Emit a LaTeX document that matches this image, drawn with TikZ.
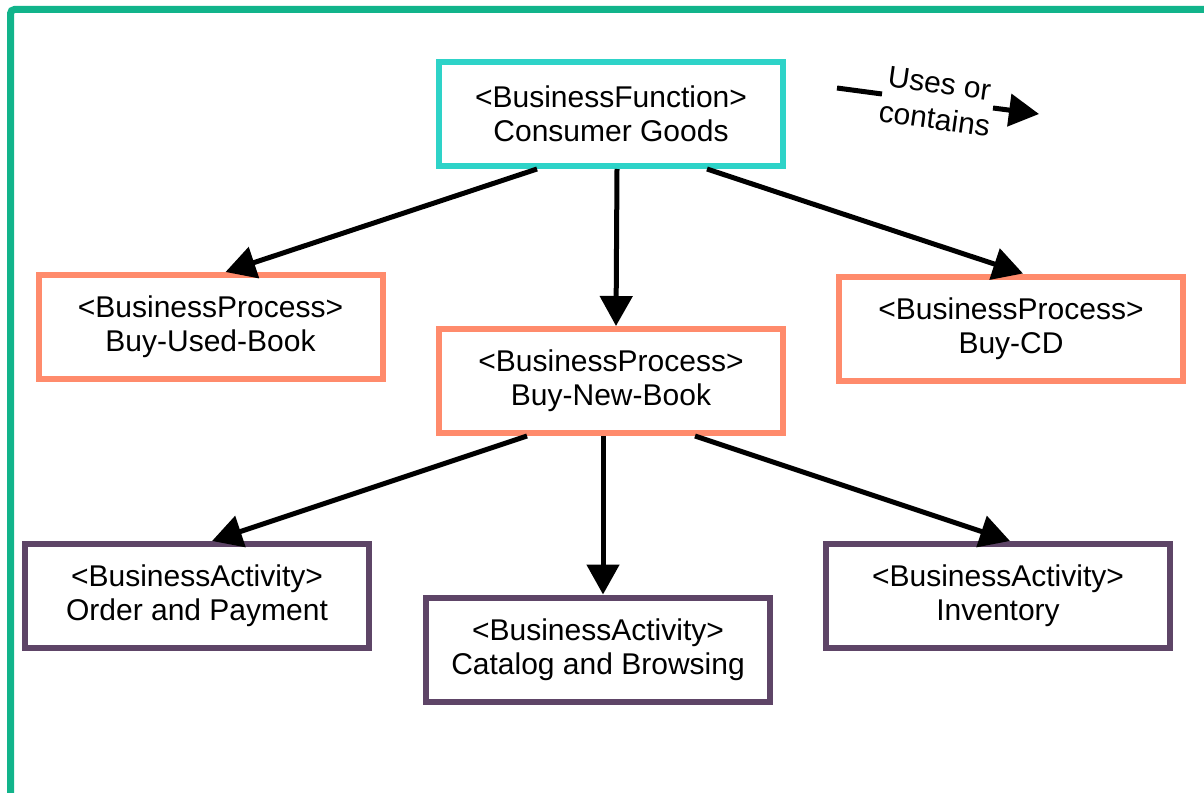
\documentclass[tikz,border=0pt]{standalone}
\usepackage{fontspec}
\setmainfont{Liberation Sans}
\usetikzlibrary{arrows.meta,calc}
\definecolor{framegreen}{HTML}{12B48B}
\definecolor{funccyan}{HTML}{2ED3C8}
\definecolor{procsalmon}{HTML}{FF8B6C}
\definecolor{actpurple}{HTML}{5E4567}
\begin{document}
\begin{tikzpicture}[x=0.5pt,y=-0.5pt,
    every node/.style={font=\fontsize{15}{17}\selectfont,align=center},
    box/.style={draw,line width=3pt,minimum width=172pt,minimum height=52pt,inner sep=0pt},
    func/.style={box,draw=funccyan},
    proc/.style={box,draw=procsalmon},
    act/.style={box,draw=actpurple},
    link/.style={line width=2.5pt,-{Triangle[length=15pt,width=16pt]}}]
      \useasboundingbox (0,0) rectangle (1204,792);
      \draw[framegreen,line width=3.5pt,rounded corners=2pt] (10.5,9.5) rectangle (1300,900);
      \node[func] (cg) at (611,114) {<BusinessFunction>\\Consumer Goods};
      \node[proc] (bub) at (210.5,327) {<BusinessProcess>\\Buy-Used-Book};
      \node[proc] (bnb) at (611,381) {<BusinessProcess>\\Buy-New-Book};
      \node[proc] (bcd) at (1011,328.5) {<BusinessProcess>\\Buy-CD};
      \node[act] (op) at (197,596) {<BusinessActivity>\\Order and Payment};
      \node[act] (cb) at (598,649.5) {<BusinessActivity>\\Catalog and Browsing};
      \node[act] (inv) at (998,596) {<BusinessActivity>\\Inventory};
      \draw[link] ($(cg.south)+(-74,0)$) -- ($(bub.north)+(15,0)$);
      \draw[link] ($(cg.south)+(6,0)$) -- ($(bnb.north)+(5,0)$);
      \draw[link] ($(cg.south)+(96,0)$) -- ($(bcd.north)+(12,0)$);
      \draw[link] ($(bnb.south)+(-84,0)$) -- ($(op.north)+(15,0)$);
      \draw[link] ($(bnb.south)+(-8,0)$) -- ($(cb.north)+(5,0)$);
      \draw[link] ($(bnb.south)+(84,0)$) -- ($(inv.north)+(12,0)$);
      \node[rotate=-8,font=\fontsize{15}{18}\selectfont] (legend) at (937,101) {Uses or\\contains};
      \coordinate (lga) at (837,88);
      \coordinate (lgb) at (882,94);
      \coordinate (lgc) at (993,108);
      \coordinate (lgd) at (1039,114);
      \draw[line width=2.5pt] (lga) -- (lgb);
      \draw[link] (lgc) -- (lgd);
\end{tikzpicture}
\end{document}
